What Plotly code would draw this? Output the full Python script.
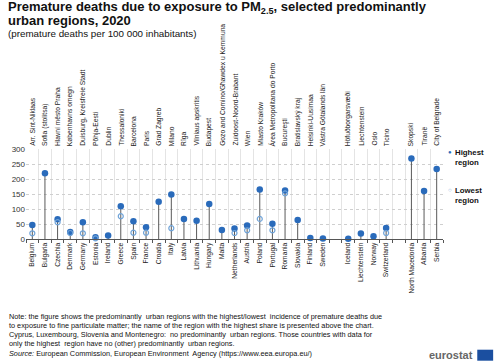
import plotly.graph_objects as go

countries = ["Belgium", "Bulgaria", "Czechia", "Denmark", "Germany", "Estonia", "Ireland",
             "Greece", "Spain", "France", "Croatia", "Italy", "Latvia", "Lithuania", "Hungary",
             "Malta", "Netherlands", "Austria", "Poland", "Portugal", "Romania", "Slovakia",
             "Finland", "Sweden", " ", "Iceland", "Liechtenstein", "Norway", "Switzerland", "  ",
             "North Macedonia", "Albania", "Serbia"]

regions = ["Arr. Sint-Niklaas", "Sofia (stolitsa)", "Hlavní město Praha", "Københavns omegn",
           "Duisburg, Kreisfreie Stadt", "Põhja-Eesti", "Dublin", "Thessaloniki", "Barcelona",
           "Paris", "Grad Zagreb", "Milano", "Rīga", "Vilniaus apskritis", "Budapest",
           "Gozo and Comino/Għawdex u Kemmuna", "Zuidoost-Noord-Brabant", "Wien", "Miasto Kraków",
           "Área Metropolitana do Porto", "Bucureşti", "Bratislavský kraj", "Helsinki-Uusimaa",
           "Västra Götalands län", "", "Höfuðborgarsvæði", "Liechtenstein", "Oslo", "Ticino", "",
           "Skopski", "Tiranë", "City of Belgrade"]

highest = [47, 219, 66, 23, 56, 6, 12, 109, 59, 39, 124, 148, 67, 61, 117, 30, 35, 45, 165, 51,
           162, 63, 3, 2, None, 1, 18, 9, 37, None, 268, 160, 233]

lowest = [19, None, 56, 20, 19, 2, None, 76, 21, 21, None, 36, None, None, None, None, 20, 29, 67,
          29, 152, None, None, None, None, None, None, None, 20, None, None, None, None]

y_ticks = [0, 50, 100, 150, 200, 250, 300]

title_lines = ["<b>Premature deaths due to exposure to PM<sub>2.5</sub>, selected predominantly</b>",
               "<b>urban regions, 2020</b>"]
subtitle = "(premature deaths per 100 000 inhabitants)"
note_lines = [
    "Note: the figure shows the predominantly  urban regions with the highest/lowest  incidence of premature deaths due",
    "to exposure to fine particulate matter; the name of the region with the highest share is presented above the chart.",
    "Cyprus, Luxembourg, Slovenia and Montenegro:  no predominantly  urban regions. Those countries with data for",
    "only the highest  region have no (other) predominantly  urban regions.",
]
source = "<i>Source:</i> European Commission, European Environment  Agency (https://www.eea.europa.eu/)"

HIGH_C = "#2a6bbb"
LOW_C = "#6fa3d8"
STEM_C = "#5a5a5a"
FONT = "Liberation Sans, Arial"

L, R, T, B = 23.6, 443.5, 149.3, 239.3
W, H = 500, 364


def px(x):
    return (x - L) / (R - L)


def py(y):
    return (B - y) / (B - T)


fig = go.Figure()

fig.add_trace(go.Scatter(
    x=countries, y=highest, mode="markers", name="Highest region",
    marker=dict(color=HIGH_C, size=6.5),
    error_y=dict(type="data", symmetric=False, array=[0 if v is not None else None for v in highest],
                 arrayminus=highest, thickness=1, width=0, color=STEM_C),
    showlegend=False, cliponaxis=False,
))
fig.add_trace(go.Scatter(
    x=countries, y=lowest, mode="markers", name="Lowest region",
    marker=dict(color="rgba(0,0,0,0)", size=5, line=dict(color=LOW_C, width=1.2)),
    showlegend=False, cliponaxis=False,
))

annotations = []
for c, r in zip(countries, regions):
    if r:
        annotations.append(dict(
            x=c, xref="x", y=1, yref="paper", yanchor="bottom", xanchor="center",
            text=r, textangle=-90, showarrow=False, yshift=1,
            font=dict(family=FONT, size=6.7, color="#222"),
        ))


def text_ann(text, x, y, size, color="#111", anchor="left"):
    return dict(x=px(x), xref="paper", y=py(y), yref="paper", xanchor=anchor, yanchor="middle",
                text=text, showarrow=False, align="left", font=dict(family=FONT, size=size, color=color))


annotations.append(text_ann(title_lines[0], 3, 7.5, 13))
annotations.append(text_ann(title_lines[1], 3, 21, 13))
annotations.append(text_ann(subtitle, 3, 34, 9.8))

# legend (custom)
annotations += [
    dict(x=px(451), xref="paper", y=py(152), yref="paper", xanchor="center", yanchor="middle",
         text="●", showarrow=False, font=dict(size=6, color=HIGH_C)),
    dict(x=px(454), xref="paper", y=py(146), yref="paper", xanchor="left", yanchor="top",
         text="<b>Highest</b><br><b>region</b>", align="left", showarrow=False,
         font=dict(family=FONT, size=7.8, color="#111")),
    dict(x=px(451), xref="paper", y=py(190), yref="paper", xanchor="center", yanchor="middle",
         text="○", showarrow=False, font=dict(size=6, color=LOW_C)),
    dict(x=px(454), xref="paper", y=py(184), yref="paper", xanchor="left", yanchor="top",
         text="<b>Lowest</b><br><b>region</b>", align="left", showarrow=False,
         font=dict(family=FONT, size=7.8, color="#111")),
]

for i, line in enumerate(note_lines):
    annotations.append(text_ann(line, 4, 316.5 + 9.1 * i, 7.3))
annotations.append(text_ann(source, 4, 353.5, 7.3))
annotations.append(text_ann("<b>eurostat</b>", 476, 355.5, 11, color="#666", anchor="right"))

shapes = [dict(type="rect", xref="paper", yref="paper", x0=px(478), x1=px(494), y0=py(361), y1=py(350),
               fillcolor="#1b4fa0", line=dict(width=0))]

fig.update_layout(
    width=W, height=H,
    margin=dict(l=L, r=W - R, t=T, b=H - B, pad=0),
    paper_bgcolor="white", plot_bgcolor="white",
    xaxis=dict(
        type="category", categoryorder="array", categoryarray=countries,
        range=[-0.5, len(countries) - 0.5],
        tickson="boundaries", ticks="outside", ticklen=3, tickcolor="#555",
        showline=True, linecolor="#555", linewidth=1,
        showgrid=True, gridcolor="#e4e4e4", gridwidth=1,
        tickangle=-90, tickfont=dict(family=FONT, size=6.7, color="#222"),
        fixedrange=True,
    ),
    yaxis=dict(
        range=[0, 300], tickvals=y_ticks, showgrid=True, gridcolor="#cfcfcf", griddash="dot",
        zeroline=False, showline=False, ticks="",
        tickfont=dict(family=FONT, size=8, color="#333"),
        fixedrange=True,
    ),
    annotations=annotations, shapes=shapes,
    showlegend=False,
)

fig.write_html("out.html", config={"displayModeBar": False},
               post_script="document.body.style.margin='0';document.body.style.overflow='hidden';")
